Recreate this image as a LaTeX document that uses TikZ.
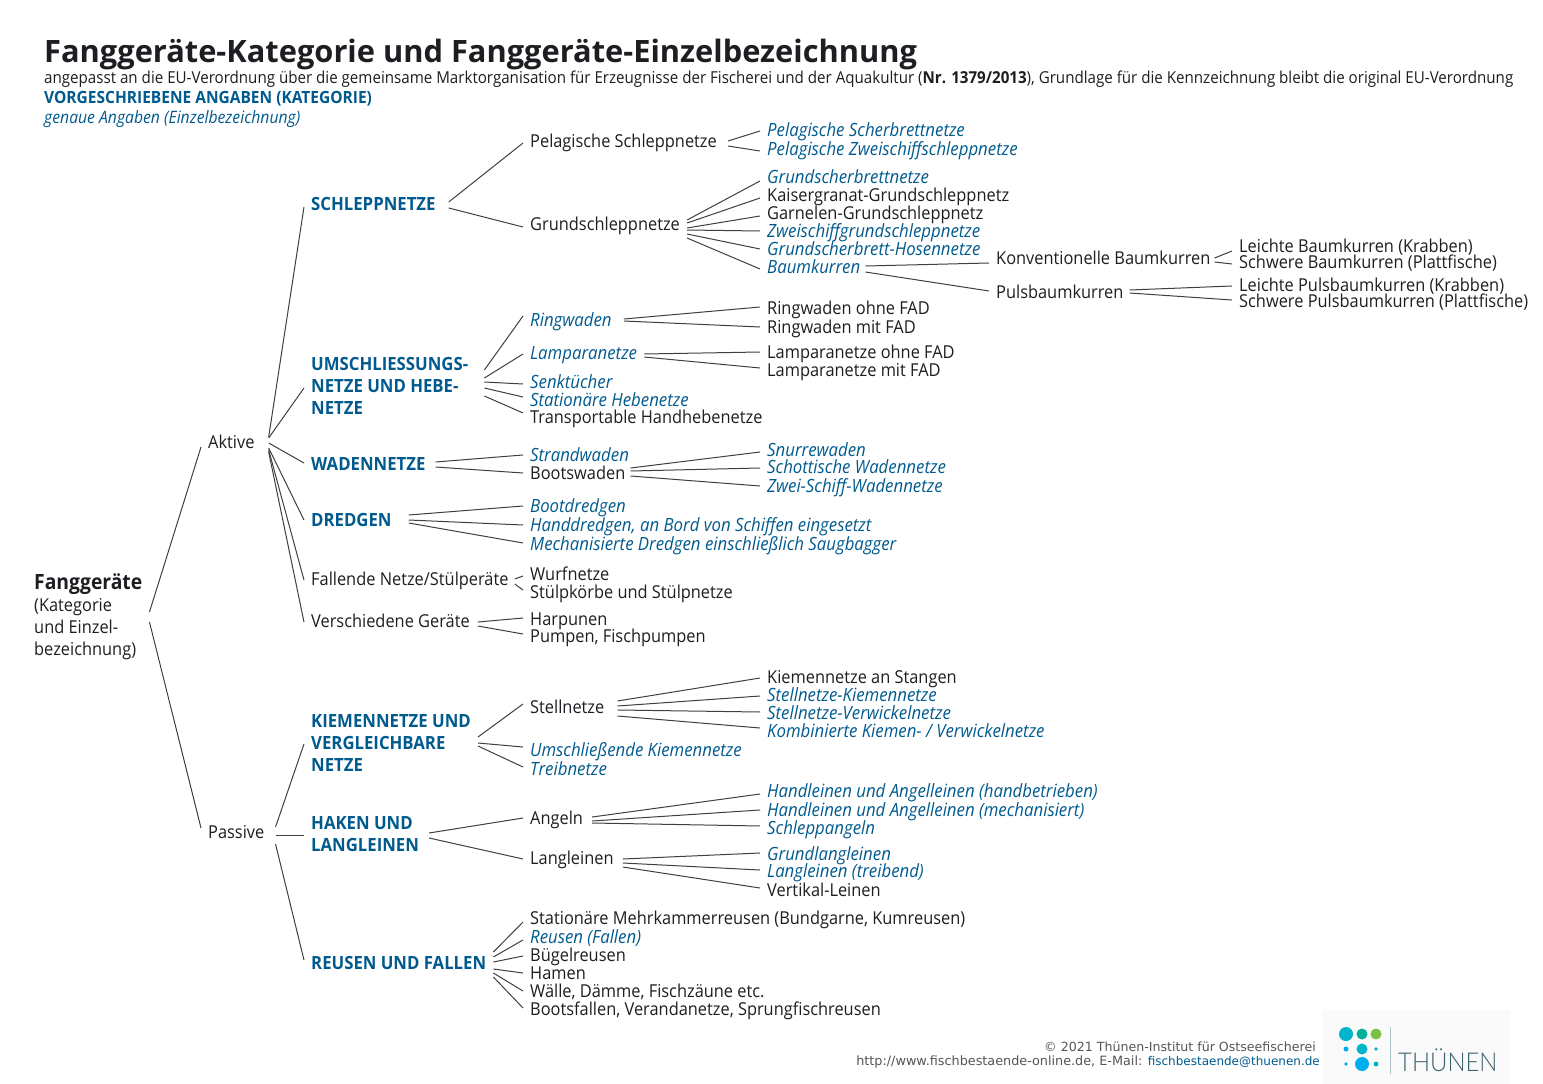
\documentclass[tikz,border=0pt]{standalone}
\usepackage{fontspec}
\setmainfont[FakeStretch=0.92]{Open Sans}
\newfontfamily\titlefont{Open Sans}
\newfontfamily\webfont{DejaVu Sans}
\newfontfamily\logofont[FakeStretch=0.92]{Lato Light}
\usetikzlibrary{positioning}
\definecolor{ink}{HTML}{1D1D22}
\definecolor{fishblue}{HTML}{005A8E}
\definecolor{webgrey}{HTML}{555555}
\definecolor{dotcyan}{HTML}{00B5CC}
\definecolor{dotteal}{HTML}{00B09B}
\definecolor{dotgreen}{HTML}{7AC143}
\definecolor{dotsky}{HTML}{00AEEF}
\definecolor{logotext}{HTML}{3F6470}
\definecolor{logobar}{HTML}{B0C6CE}
\tikzset{
  term/.style={anchor=west,inner xsep=7pt,inner ysep=0pt,align=left,text height=16pt,text depth=3pt,text=ink,font=\fontsize{17.8}{22}\selectfont},
  detail/.style={term,text=fishblue,font=\fontsize{18.25}{22}\selectfont\itshape},
  category/.style={term,text height=17pt,text=fishblue,font=\fontsize{18.2}{22}\selectfont\bfseries},
  block/.style={text height=,text depth=},
  head/.style={term,inner xsep=0pt},
  web/.style={anchor=east,inner sep=0pt,text=webgrey,font=\fontsize{12.6}{14}\selectfont\webfont},
  link/.style={draw=ink!85,line width=1pt}
}
\begin{document}
\begin{tikzpicture}[x=1pt,y=-1pt]
\useasboundingbox (0,0) rectangle (1543,1084);
% heading
\node[head,font=\fontsize{30.8}{34}\selectfont\titlefont\bfseries] (title) at (44,56) {Fanggeräte-Kategorie und Fanggeräte-Einzelbezeichnung};
\node[head,font=\fontsize{16.45}{20}\selectfont] (note) at (44,77) {angepasst an die EU-Verordnung über die gemeinsame Marktorganisation für Erzeugnisse der Fischerei und der Aquakultur (\textbf{Nr. 1379/2013}), Grundlage für die Kennzeichnung bleibt die original EU-Verordnung};
\node[head,text=fishblue,font=\fontsize{16.85}{20}\selectfont\bfseries] (legcat) at (44,97) {VORGESCHRIEBENE ANGABEN (KATEGORIE)};
\node[head,text=fishblue,font=\fontsize{17.1}{20}\selectfont\itshape] (legdet) at (44,117) {genaue Angaben (Einzelbezeichnung)};
% root and first level
\node[term,block] (root) at (27,617) {{\fontsize{21}{22}\selectfont\bfseries Fanggeräte}\\(Kategorie\\und Einzel-\\bezeichnung)};
\node[term] (aktive) at (201,442) {Aktive};
\node[term] (passive) at (201,832) {Passive};
% categories
\node[category] (schlepp) at (304,203) {SCHLEPPNETZE};
\node[category,block] (umschl) at (304,386) {UMSCHLIESSUNGS-\\NETZE UND HEBE-\\NETZE};
\node[category] (waden) at (304,463) {WADENNETZE};
\node[category] (dredgen) at (304,519) {DREDGEN};
\node[term] (fallend) at (304,579) {Fallende Netze/Stülperäte};
\node[term] (versch) at (304,621) {Verschiedene Geräte};
\node[category,block] (kiemen) at (304,743) {KIEMENNETZE UND\\VERGLEICHBARE\\NETZE};
\node[category,block] (haken) at (304,834) {HAKEN UND\\LANGLEINEN};
\node[category] (reusen) at (304,962) {REUSEN UND FALLEN};
% third level
\node[term] (pelag) at (523,141) {Pelagische Schleppnetze};
\node[term] (grund) at (523,224) {Grundschleppnetze};
\node[detail] (ring) at (523,320) {Ringwaden};
\node[detail] (lampara) at (523,353) {Lamparanetze};
\node[detail] (senk) at (523,382) {Senktücher};
\node[detail] (station) at (523,400) {Stationäre Hebenetze};
\node[term] (transport) at (523,417) {Transportable Handhebenetze};
\node[detail] (strand) at (523,455) {Strandwaden};
\node[term] (boots) at (523,473) {Bootswaden};
\node[detail] (bootdr) at (523,506) {Bootdredgen};
\node[detail] (handdr) at (523,525) {Handdredgen, an Bord von Schiffen eingesetzt};
\node[detail] (mechdr) at (523,544) {Mechanisierte Dredgen einschließlich Saugbagger};
\node[term] (wurf) at (523,574) {Wurfnetze};
\node[term] (stuelp) at (523,592) {Stülpkörbe und Stülpnetze};
\node[term] (harpun) at (523,619) {Harpunen};
\node[term] (pumpen) at (523,636) {Pumpen, Fischpumpen};
\node[term] (stell) at (523,707) {Stellnetze};
\node[detail] (umkiem) at (523,750) {Umschließende Kiemennetze};
\node[detail] (treib) at (523,769) {Treibnetze};
\node[term] (angeln) at (523,818) {Angeln};
\node[term] (lang) at (523,858) {Langleinen};
\node[term] (mehrk) at (523,918) {Stationäre Mehrkammerreusen (Bundgarne, Kumreusen)};
\node[detail] (fallen) at (523,937) {Reusen (Fallen)};
\node[term] (buegel) at (523,955) {Bügelreusen};
\node[term] (hamen) at (523,973) {Hamen};
\node[term] (waelle) at (523,991) {Wälle, Dämme, Fischzäune etc.};
\node[term] (bootsf) at (523,1009) {Bootsfallen, Verandanetze, Sprungfischreusen};
% fourth level
\node[detail] (pscher) at (760,130) {Pelagische Scherbrettnetze};
\node[detail] (pzwei) at (760,149) {Pelagische Zweischiffschleppnetze};
\node[detail] (gscher) at (760,177) {Grundscherbrettnetze};
\node[term] (kaiser) at (760,195) {Kaisergranat-Grundschleppnetz};
\node[term] (garnel) at (760,213) {Garnelen-Grundschleppnetz};
\node[detail] (zwei) at (760,231) {Zweischiffgrundschleppnetze};
\node[detail] (hosen) at (760,249) {Grundscherbrett-Hosennetze};
\node[detail] (baum) at (760,267) {Baumkurren};
\node[term] (ringo) at (760,308) {Ringwaden ohne FAD};
\node[term] (ringm) at (760,327) {Ringwaden mit FAD};
\node[term] (lampo) at (760,352) {Lamparanetze ohne FAD};
\node[term] (lampm) at (760,370) {Lamparanetze mit FAD};
\node[detail] (snurre) at (760,450) {Snurrewaden};
\node[detail] (schott) at (760,467) {Schottische Wadennetze};
\node[detail] (zweisch) at (760,486) {Zwei-Schiff-Wadennetze};
\node[term] (stangen) at (760,677) {Kiemennetze an Stangen};
\node[detail] (stkiem) at (760,695) {Stellnetze-Kiemennetze};
\node[detail] (stverw) at (760,713) {Stellnetze-Verwickelnetze};
\node[detail] (kombi) at (760,731) {Kombinierte Kiemen- / Verwickelnetze};
\node[detail] (handb) at (760,791) {Handleinen und Angelleinen (handbetrieben)};
\node[detail] (handm) at (760,810) {Handleinen und Angelleinen (mechanisiert)};
\node[detail] (schlang) at (760,828) {Schleppangeln};
\node[detail] (grundl) at (760,854) {Grundlangleinen};
\node[detail] (treibl) at (760,871) {Langleinen (treibend)};
\node[term] (vertik) at (760,890) {Vertikal-Leinen};
% beam trawls
\node[term] (konv) at (989,258) {Konventionelle Baumkurren};
\node[term] (puls) at (989,292) {Pulsbaumkurren};
\node[term] (lbaum) at (1232,246) {Leichte Baumkurren (Krabben)};
\node[term] (sbaum) at (1232,262) {Schwere Baumkurren (Plattfische)};
\node[term] (lpuls) at (1232,285) {Leichte Pulsbaumkurren (Krabben)};
\node[term] (spuls) at (1232,301) {Schwere Pulsbaumkurren (Plattfische)};
% connectors
\draw[link] ([yshift=5pt]root.east) -- ([yshift=-5pt]aktive.west);
\draw[link] ([yshift=-5pt]root.east) -- ([yshift=4pt]passive.west);
\draw[link] ([xshift=7pt,yshift=5pt]aktive.east) -- ([yshift=-4pt]schlepp.west);
\draw[link] ([xshift=7pt,yshift=4pt]aktive.east) -- ([yshift=-2pt]umschl.west);
\draw[link] ([xshift=7pt,yshift=-1pt]aktive.east) -- (waden.west);
\draw[link] ([xshift=7pt,yshift=-6pt]aktive.east) -- ([yshift=-1pt]dredgen.west);
\draw[link] ([xshift=7pt,yshift=-8pt]aktive.east) -- ([yshift=-1pt]fallend.west);
\draw[link] ([xshift=7pt,yshift=-10pt]aktive.east) -- ([yshift=-1pt]versch.west);
\draw[link] ([xshift=4pt,yshift=5pt]passive.east) -- ([yshift=-1pt]kiemen.west);
\draw[link] ([xshift=4pt,yshift=-3pt]passive.east) -- ([yshift=-1pt]haken.west);
\draw[link] ([xshift=4pt,yshift=-12pt]passive.east) -- ([yshift=2pt]reusen.west);
\draw[link] ([xshift=6pt,yshift=1pt]schlepp.east) -- ([yshift=-2pt]pelag.west);
\draw[link] ([xshift=6pt,yshift=-5pt]schlepp.east) -- ([yshift=-3pt]grund.west);
\draw[link] ([xshift=9pt,yshift=16pt]umschl.east) -- ([yshift=4pt]ring.west);
\draw[link] ([xshift=9pt,yshift=8pt]umschl.east) -- ([yshift=-1pt]lampara.west);
\draw[link] ([xshift=9pt,yshift=4pt]umschl.east) -- ([yshift=-2pt]senk.west);
\draw[link] ([xshift=9pt,yshift=-2pt]umschl.east) -- ([yshift=3pt]station.west);
\draw[link] ([xshift=9pt,yshift=-10pt]umschl.east) -- ([yshift=4pt]transport.west);
\draw[link] ([xshift=3pt,yshift=1pt]waden.east) -- (strand.west);
\draw[link] ([xshift=3pt,yshift=-4pt]waden.east) -- (boots.west);
\draw[link] ([xshift=10pt,yshift=4pt]dredgen.east) -- (bootdr.west);
\draw[link] ([xshift=10pt,yshift=-1pt]dredgen.east) -- (handdr.west);
\draw[link] ([xshift=10pt,yshift=-4pt]dredgen.east) -- ([yshift=1pt]mechdr.west);
\draw[link] ([xshift=-1pt]fallend.east) -- ([yshift=-2pt]wurf.west);
\draw[link] ([xshift=-1pt,yshift=-5pt]fallend.east) -- ([yshift=2pt]stuelp.west);
\draw[link] ([xshift=1pt,yshift=-1pt]versch.east) -- ([yshift=1pt]harpun.west);
\draw[link] ([xshift=1pt,yshift=-5pt]versch.east) -- ([yshift=2pt]pumpen.west);
\draw[link] ([yshift=6pt]kiemen.east) -- ([yshift=3pt]stell.west);
\draw[link] (kiemen.east) -- ([yshift=3pt]umkiem.west);
\draw[link] ([yshift=-3pt]kiemen.east) -- ([yshift=2pt]treib.west);
\draw[link] ([xshift=3pt,yshift=1pt]haken.east) -- (angeln.west);
\draw[link] ([xshift=3pt,yshift=-4pt]haken.east) -- ([yshift=-1pt]lang.west);
\draw[link] ([yshift=10pt]reusen.east) -- ([yshift=-4pt]mehrk.west);
\draw[link] ([yshift=5pt]reusen.east) -- ([yshift=-3pt]fallen.west);
\draw[link] (reusen.east) -- ([yshift=-1pt]buegel.west);
\draw[link] ([yshift=-7pt]reusen.east) -- (hamen.west);
\draw[link] ([yshift=-11pt]reusen.east) -- (waelle.west);
\draw[link] ([yshift=-15pt]reusen.east) -- ([yshift=1pt]bootsf.west);
\draw[link] ([xshift=4pt]pelag.east) -- ([yshift=-1pt]pscher.west);
\draw[link] ([xshift=4pt,yshift=-5pt]pelag.east) -- ([yshift=-2pt]pzwei.west);
\draw[link] ([yshift=4pt]grund.east) -- ([yshift=-4pt]gscher.west);
\draw[link] ([yshift=1pt]grund.east) -- ([yshift=-3pt]kaiser.west);
\draw[link] ([yshift=-4pt]grund.east) -- ([yshift=-3pt]garnel.west);
\draw[link] ([yshift=-6pt]grund.east) -- (zwei.west);
\draw[link] ([yshift=-10pt]grund.east) -- (hosen.west);
\draw[link] ([yshift=-14pt]grund.east) -- ([yshift=-2pt]baum.west);
\draw[link] ([xshift=-2pt,yshift=1pt]baum.east) -- ([yshift=-5pt]konv.west);
\draw[link] ([xshift=-2pt,yshift=-5pt]baum.east) -- ([yshift=1pt]puls.west);
\draw[link] ([xshift=-3pt]konv.east) -- ([yshift=-5pt]lbaum.west);
\draw[link] ([xshift=-3pt,yshift=-4pt]konv.east) -- ([yshift=-2pt]sbaum.west);
\draw[link] ([xshift=-1pt,yshift=2pt]puls.east) -- ([yshift=-1pt]lpuls.west);
\draw[link] ([xshift=-1pt,yshift=-1pt]puls.east) -- ([yshift=1pt]spuls.west);
\draw[link] ([xshift=5pt,yshift=1pt]ring.east) -- ([yshift=1pt]ringo.west);
\draw[link] ([xshift=5pt,yshift=-1pt]ring.east) -- (ringm.west);
\draw[link] ([yshift=-1pt]lampara.east) -- (lampo.west);
\draw[link] ([yshift=-4pt]lampara.east) -- ([yshift=2pt]lampm.west);
\draw[link] ([xshift=-2pt,yshift=5pt]boots.east) -- ([yshift=-2pt]snurre.west);
\draw[link] ([xshift=-2pt,yshift=2pt]boots.east) -- ([yshift=-1pt]schott.west);
\draw[link] ([xshift=-2pt,yshift=-3pt]boots.east) -- (zweisch.west);
\draw[link] ([xshift=6pt,yshift=6pt]stell.east) -- ([yshift=-1pt]stangen.west);
\draw[link] ([xshift=6pt,yshift=1pt]stell.east) -- ([yshift=-1pt]stkiem.west);
\draw[link] ([xshift=6pt,yshift=-3pt]stell.east) -- ([yshift=1pt]stverw.west);
\draw[link] ([xshift=6pt,yshift=-9pt]stell.east) -- ([yshift=3pt]kombi.west);
\draw[link] ([xshift=2pt,yshift=1pt]angeln.east) -- ([yshift=-3pt]handb.west);
\draw[link] ([xshift=2pt,yshift=-3pt]angeln.east) -- (handm.west);
\draw[link] ([xshift=2pt,yshift=-5pt]angeln.east) -- ([yshift=2pt]schlang.west);
\draw[link] ([xshift=2pt,yshift=-1pt]lang.east) -- ([yshift=1pt]grundl.west);
\draw[link] ([xshift=2pt,yshift=-5pt]lang.east) -- ([yshift=1pt]treibl.west);
\draw[link] ([xshift=2pt,yshift=-9pt]lang.east) -- ([yshift=2pt]vertik.west);
% footer
\node[web] (copyr) at (1316,1047) {© 2021 Thünen-Institut für Ostseefischerei};
\node[web,font=\fontsize{12.8}{14}\selectfont\webfont] (contact) at (1320,1062) {http://www.fischbestaende-online.de, E-Mail: \textcolor{fishblue}{\fontsize{12}{14}\selectfont fischbestaende@thuenen.de}};
% logo
\fill[black!2] (1323,1010) rectangle (1510,1084);
\fill[dotcyan] (1346,1034) circle (7);
\fill[dotteal] (1362,1034) circle (5.5);
\fill[dotgreen] (1376,1034) circle (5.5);
\fill[dotsky] (1346,1049) circle (2.5);
\fill[dotcyan] (1362,1049) circle (5.5);
\fill[dotcyan] (1376,1049) circle (1.8);
\fill[dotsky] (1346,1064) circle (1.8);
\fill[dotsky] (1362,1064) circle (7);
\fill[dotcyan] (1376,1064) circle (2.5);
\draw[line width=1.5pt,draw=logobar] (1390.5,1027) -- (1390.5,1074);
\node[anchor=west,inner sep=0pt,text=logotext,font=\fontsize{26}{27}\selectfont\logofont] (logo) at (1398,1060) {THÜNEN};
\end{tikzpicture}
\end{document}
